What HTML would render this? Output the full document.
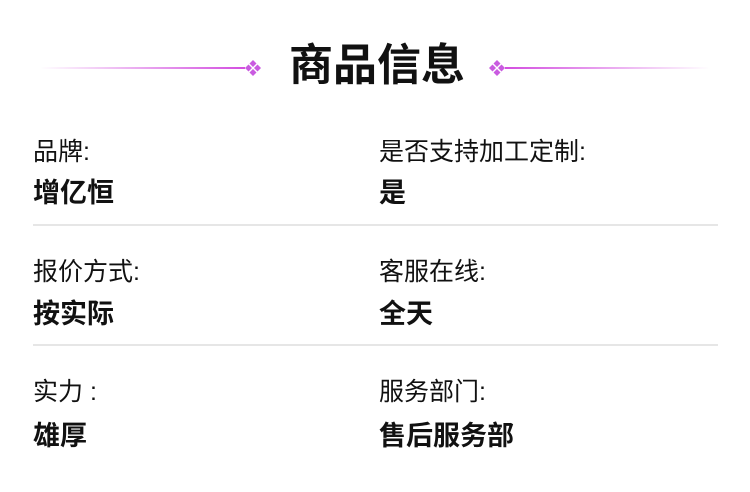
<!DOCTYPE html>
<html><head><meta charset="utf-8"><style>
body{margin:0;width:750px;height:492px;background:#fff;position:relative;overflow:hidden;font-family:"Liberation Sans","Noto Sans CJK SC",sans-serif;color:#111}
.t{position:absolute;line-height:1;white-space:nowrap}
.l{font-size:25px}
.v{font-size:27px;font-weight:bold}
.hr{position:absolute;left:33px;width:685px;height:2px;background:#e6e6e6}
.ln{position:absolute;top:67px;height:2px}
</style></head><body>
<div class="ln" style="left:40px;width:205px;background:linear-gradient(to right,rgba(220,110,230,0),#d34ee0)"></div>
<div class="ln" style="left:505px;width:205px;background:linear-gradient(to left,rgba(220,110,230,0),#d34ee0)"></div>
<svg style="position:absolute;left:244px;top:59px" width="18" height="18" viewBox="0 0 18 18" fill="#c95be0">
<path d="M9 1l3.5 3.5L9 8 5.5 4.5z"/><path d="M9 10l3.5 3.5L9 17l-3.5-3.5z"/><path d="M4.5 5.5L8 9l-3.5 3.5L1 9z"/><path d="M13.5 5.5L17 9l-3.5 3.5L10 9z"/></svg>
<svg style="position:absolute;left:488px;top:59px" width="18" height="18" viewBox="0 0 18 18" fill="#c95be0">
<path d="M9 1l3.5 3.5L9 8 5.5 4.5z"/><path d="M9 10l3.5 3.5L9 17l-3.5-3.5z"/><path d="M4.5 5.5L8 9l-3.5 3.5L1 9z"/><path d="M13.5 5.5L17 9l-3.5 3.5L10 9z"/></svg>
<div class="t" style="left:289px;top:44px;font-size:44px;font-weight:bold">商品信息</div>

<div class="t l" style="left:33px;top:140px">品牌:</div>
<div class="t v" style="left:33px;top:180px">增亿恒</div>
<div class="t l" style="left:379px;top:140px">是否支持加工定制:</div>
<div class="t v" style="left:379px;top:180px">是</div>
<div class="hr" style="top:224px"></div>

<div class="t l" style="left:33px;top:260px">报价方式:</div>
<div class="t v" style="left:33px;top:301px">按实际</div>
<div class="t l" style="left:379px;top:260px">客服在线:</div>
<div class="t v" style="left:379px;top:301px">全天</div>
<div class="hr" style="top:344px"></div>

<div class="t l" style="left:33px;top:380px">实力 :</div>
<div class="t v" style="left:33px;top:423px">雄厚</div>
<div class="t l" style="left:379px;top:380px">服务部门:</div>
<div class="t v" style="left:379px;top:423px">售后服务部</div>
</body></html>
